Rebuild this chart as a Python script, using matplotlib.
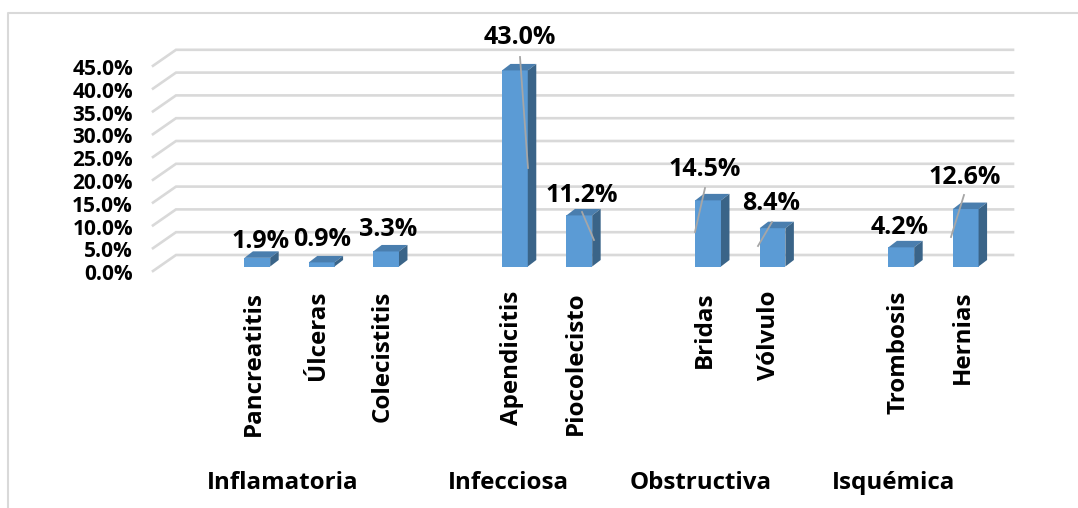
import matplotlib
matplotlib.use("Agg")
import matplotlib.pyplot as plt
from matplotlib.patches import Polygon

causes = ["Pancreatitis", "Úlceras", "Colecistitis", "Apendicitis", "Piocolecisto",
          "Bridas", "Vólvulo", "Trombosis", "Hernias"]
values = [1.9, 0.9, 3.3, 43.0, 11.2, 14.5, 8.4, 4.2, 12.6]
slots = [0, 1, 2, 4, 5, 7, 8, 10, 11]
groups = ["Inflamatoria", "Infecciosa", "Obstructiva", "Isquémica"]
y_ticks = [0, 5, 10, 15, 20, 25, 30, 35, 40, 45]

W, H = 1078, 508
PX_SLOT = 64.4
PX_PCT = 4.56
X0_PX = 257.3
Y0_PX = 266.5
BAR_W = 0.4
FONT = ["Open Sans", "DejaVu Sans"]

# label centres and leader lines, in image pixels
label_px = [(261, 240), (322, 238), (388, 228), (520, 36), (582, 194),
            (705, 168), (771, 202), (900, 226), (965, 176)]
leader_px = {3: ((520, 57), (528, 168)), 4: ((582, 212), (594, 240)),
             5: ((705, 188), (695, 232)), 6: ((772, 222), (758, 246)),
             8: ((964, 195), (951, 237))}
group_px = [(283, 483), (508, 483), (701, 483), (894, 483)]


def px_x(x):
    return (x - X0_PX) / PX_SLOT


def px_y(y):
    return (Y0_PX - y) / PX_PCT


def main():
    fig = plt.figure(figsize=(W / 100, H / 100), dpi=100)
    ax = fig.add_axes([0, 0, 1, 1])
    ax.set_xlim(px_x(0), px_x(W))
    ax.set_ylim(px_y(H), px_y(0))
    ax.axis("off")

    # outer chart frame, only top and left are inside the crop
    ax.plot([px_x(8.5), px_x(8.5), px_x(W)], [px_y(H), px_y(13), px_y(13)],
            color="#D9D9D9", lw=1.5, zorder=1)

    # gridlines on the back wall and the floor side
    back_dy = 11.5 / PX_PCT
    front_dy = -4.5 / PX_PCT
    for v in y_ticks:
        ax.plot([px_x(153), px_x(176), px_x(1013)],
                [v + front_dy, v + back_dy, v + back_dy],
                color="#D9D9D9", lw=1.9, solid_joinstyle="miter", zorder=1)
        ax.text(px_x(133), v + front_dy - 0.8, f"{v:.1f}%", ha="right", va="center",
                fontsize=15, fontweight="bold", family=FONT, color="black")

    # bars with a fake 3d top and side
    dx = 8.5 / PX_SLOT
    dy = 6.5 / PX_PCT
    for s, v in zip(slots, values):
        l, r = s - BAR_W / 2, s + BAR_W / 2
        ax.bar(s, v, width=BAR_W, color="#5B9BD5", zorder=3)
        ax.add_patch(Polygon([(l, v), (r, v), (r + dx, v + dy), (l + dx, v + dy)],
                             fc="#4A7EAE", ec="none", zorder=3))
        ax.add_patch(Polygon([(r, 0), (r + dx, dy), (r + dx, v + dy), (r, v)],
                             fc="#3A6488", ec="none", zorder=3))

    for i, (a, b) in leader_px.items():
        ax.plot([px_x(a[0]), px_x(b[0])], [px_y(a[1]), px_y(b[1])],
                color="#A6A6A6", lw=1.3, zorder=4)

    for (x, y), v in zip(label_px, values):
        ax.text(px_x(x), px_y(y + 2), f"{v:.1f}%", ha="center", va="center",
                fontsize=18, fontweight="bold", family=FONT, color="black", zorder=5)

    for s, name in zip(slots, causes):
        ax.text(s - 0.05, px_y(291), name, rotation=90, ha="center", va="top",
                fontsize=17.4, fontweight="bold", family=FONT, color="black")

    for (x, y), name in zip(group_px, groups):
        ax.text(px_x(x), px_y(y), name, ha="center", va="center",
                fontsize=17.4, fontweight="bold", family=FONT, color="black")

    fig.savefig("out.png", dpi=100)
    plt.close(fig)


if __name__ == "__main__":
    main()
